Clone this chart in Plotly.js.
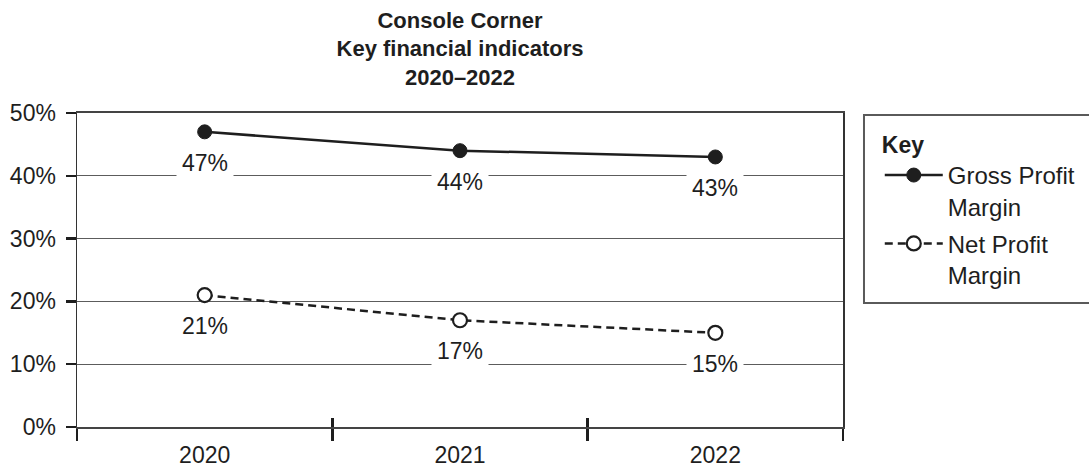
<!DOCTYPE html>
<html>
<head>
<meta charset="utf-8">
<script src="https://cdn.plot.ly/plotly-3.0.1.min.js"></script>
<style>html,body{margin:0;padding:0;background:#fff;}#chart{width:1089px;height:468px;}#err{position:absolute;left:0;top:0;font:12px monospace;color:red;}</style>
</head>
<body>
<div id="chart"></div>
<div id="err"></div>
<script>
const years = ['2020', '2021', '2022'];
const grossProfitMargin = [47, 44, 43];
const netProfitMargin = [21, 17, 15];
const seriesNames = ['Gross Profit<br>Margin', 'Net Profit<br>Margin'];
const titleLines = ['Console Corner', 'Key financial indicators', '2020–2022'];

const FONT = 'Liberation Sans, Arial, Helvetica, sans-serif';
const INK = '#1e1e1e';

const traces = [
  {
    x: years, y: grossProfitMargin, name: seriesNames[0], legendgroup: 'g1',
    type: 'scatter', mode: 'lines+markers',
    line: {color: INK, width: 2.5},
    marker: {color: INK, size: 14, line: {color: INK, width: 1}},
    xaxis: 'x', yaxis: 'y', hoverinfo: 'skip'
  },
  {
    x: years, y: netProfitMargin, name: seriesNames[1], legendgroup: 'g2',
    type: 'scatter', mode: 'lines+markers',
    line: {color: INK, width: 2.5, dash: '8px,5px'},
    marker: {color: '#ffffff', size: 14, line: {color: INK, width: 2.2}},
    xaxis: 'x2', yaxis: 'y', hoverinfo: 'skip'
  }
];

const annotations = [];
[grossProfitMargin, netProfitMargin].forEach(function (vals) {
  vals.forEach(function (v, i) {
    annotations.push({
      x: i, y: v, xref: 'x', yref: 'y',
      text: v + '%', showarrow: false,
      yshift: -31, yanchor: 'middle', xanchor: 'center',
      bgcolor: '#ffffff', borderpad: 5,
      font: {family: FONT, size: 23, color: INK}
    });
  });
});

const layout = {
  width: 1089, height: 468,
  margin: {l: 77, r: 246, t: 113, b: 41, pad: 0, autoexpand: false},
  paper_bgcolor: '#ffffff', plot_bgcolor: '#ffffff',
  showlegend: true,
  title: {
    text: '<b>' + titleLines.join('<br>') + '</b>',
    font: {family: FONT, size: 22, color: INK},
    xref: 'paper', x: 0.5, xanchor: 'center',
    yref: 'container', y: 0.941, yanchor: 'top'
  },
  xaxis: {
    type: 'category', categoryorder: 'array', categoryarray: years,
    range: [-0.5, 2.5], fixedrange: true,
    tickson: 'boundaries', ticks: 'outside', ticklen: 12, tickwidth: 2.5, tickcolor: INK,
    ticklabelstandoff: 6,
    showline: true, linecolor: '#444', linewidth: 2, mirror: true,
    showgrid: false, zeroline: false,
    tickfont: {family: FONT, size: 23, color: INK}
  },
  xaxis2: {
    type: 'category', categoryorder: 'array', categoryarray: years,
    overlaying: 'x', matches: 'x', anchor: 'y', side: 'bottom',
    tickson: 'boundaries', ticks: 'inside', ticklen: 9, tickwidth: 2.5, tickcolor: INK,
    showticklabels: false, showgrid: false, showline: false, zeroline: false
  },
  yaxis: {
    range: [0, 50], dtick: 10, tick0: 0, ticksuffix: '%', fixedrange: true,
    ticks: 'outside', ticklen: 10, tickwidth: 2.5, tickcolor: INK,
    ticklabelstandoff: 5,
    showline: true, linecolor: '#333', linewidth: 1.5, mirror: true,
    showgrid: true, gridcolor: '#5c5c5c', gridwidth: 1, zeroline: false,
    tickfont: {family: FONT, size: 23, color: INK}
  },
  legend: {
    x: 1.048, xanchor: 'left', xref: 'paper',
    y: 0.968, yanchor: 'top', yref: 'paper',
    bgcolor: 'rgba(0,0,0,0)', borderwidth: 0,
    title: {text: '<b>Key</b>', font: {family: FONT, size: 23, color: INK}},
    font: {family: FONT, size: 24, color: INK},
    itemwidth: 58, valign: 'top',
    traceorder: 'grouped', tracegroupgap: 3
  },
  shapes: [{
    type: 'rect', xref: 'paper', yref: 'paper',
    x0: 1.0274, x1: 1.33, y0: 0.3949, y1: 0.9936,
    line: {color: '#5a5a5a', width: 2}, fillcolor: 'rgba(0,0,0,0)', layer: 'below'
  }],
  annotations: annotations
};

Plotly.newPlot('chart', traces, layout, {staticPlot: true, displayModeBar: false})
  .catch(function (e) { document.getElementById('err').textContent = String(e && e.stack || e); });
window.addEventListener('error', function (e) { document.getElementById('err').textContent = e.message; });
</script>
</body>
</html>
